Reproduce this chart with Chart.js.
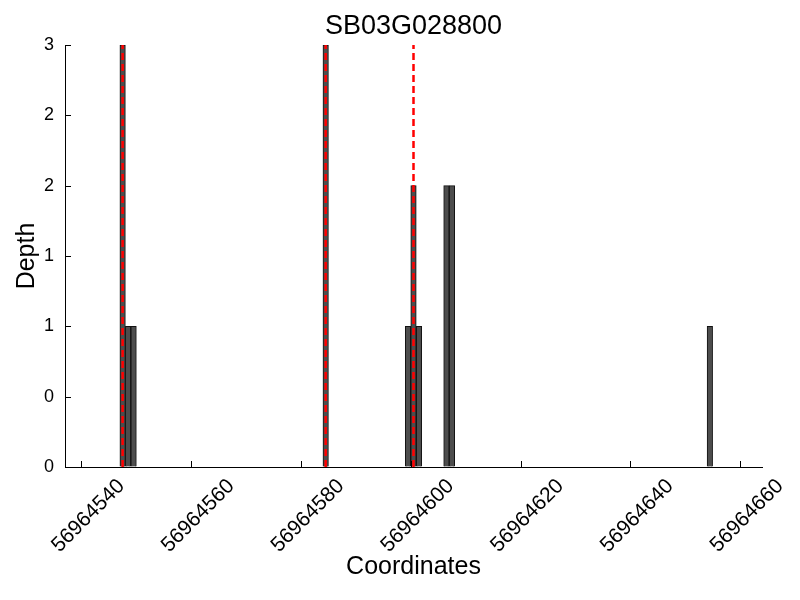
<!DOCTYPE html>
<html>
<head>
<meta charset="utf-8">
<script src="https://cdn.jsdelivr.net/npm/chart.js@4/dist/chart.umd.min.js"></script>
<style>
  html, body { margin: 0; padding: 0; background: #ffffff; }
  #wrap { width: 800px; height: 600px; }
</style>
</head>
<body>
<div id="wrap"><canvas id="c" width="800" height="600"></canvas></div>
<script>
// ---- data ----
const chartTitle = "SB03G028800";
const xAxisTitle = "Coordinates";
const yAxisTitle = "Depth";
// bar centres (1 bp bins) and depth values
const coordinates = [56964547.5, 56964548.5, 56964549.5, 56964584.5, 56964599.5, 56964600.5, 56964601.5, 56964606.5, 56964607.5, 56964654.5];
const depths      = [3, 1, 1, 3, 1, 2, 1, 2, 2, 1];
// red dashed marker positions
const markerPositions = [56964547.5, 56964584.5, 56964600.5];
const markerTop = 3;
// axis ticks
const xTickValues = [56964540, 56964560, 56964580, 56964600, 56964620, 56964640, 56964660];
const xTickLabels = ["56964540", "56964560", "56964580", "56964600", "56964620", "56964640", "56964660"];
const yTickValues = [0, 0.5, 1, 1.5, 2, 2.5, 3];
const yTickLabels = ["0", "0", "1", "1", "2", "2", "3"];
const xMin = 56964537, xMax = 56964664;
const yMin = 0, yMax = 3;

const FONT = "'Liberation Sans', Arial, Helvetica, sans-serif";

const barData = coordinates.map((c, i) => ({ x: c, y: depths[i] }));
const markerDatasets = markerPositions.map(p => ({
  type: 'line',
  data: [{ x: p, y: 0 }, { x: p, y: markerTop }],
  borderColor: '#ff0000',
  borderWidth: 2.5,
  borderDash: [7, 4],
  pointRadius: 0,
  fill: false,
  order: 1
}));

const innerTicks = {
  id: 'innerTicks',
  afterDraw(chart) {
    const ctx = chart.ctx;
    const xs = chart.scales.x, ys = chart.scales.y;
    ctx.save();
    ctx.strokeStyle = '#000';
    ctx.lineWidth = 1;
    ctx.beginPath();
    xs.ticks.forEach(t => {
      const px = Math.round(xs.getPixelForValue(t.value)) + 0.5;
      ctx.moveTo(px, ys.bottom);
      ctx.lineTo(px, ys.bottom - 6);
    });
    ys.ticks.forEach(t => {
      const py = Math.round(ys.getPixelForValue(t.value)) + 0.5;
      ctx.moveTo(xs.left, py);
      ctx.lineTo(xs.left + 6, py);
    });
    ctx.stroke();
    // title centred over the plot area
    const ca = chart.chartArea;
    ctx.fillStyle = '#000';
    ctx.font = "27px " + FONT;
    ctx.textAlign = 'center';
    ctx.textBaseline = 'middle';
    ctx.fillText(chartTitle, (ca.left + ca.right) / 2, 27);
    ctx.restore();
  }
};

new Chart(document.getElementById('c'), {
  type: 'bar',
  data: {
    datasets: [
      {
        type: 'bar',
        data: barData,
        backgroundColor: '#4d4d4d',
        borderColor: '#111111',
        borderWidth: 1,
        barPercentage: 1,
        categoryPercentage: 1,
        grouped: false,
        order: 2
      },
      ...markerDatasets
    ]
  },
  options: {
    responsive: false,
    devicePixelRatio: 1,
    animation: false,
    layout: { padding: { left: 0, right: 38, top: 45, bottom: 0 } },
    plugins: {
      legend: { display: false },
      tooltip: { enabled: false },
      title: { display: false }
    },
    scales: {
      x: {
        type: 'linear',
        min: xMin,
        max: xMax,
        offset: false,
        grid: { display: true, drawOnChartArea: false, drawTicks: false },
        border: { display: true, color: '#000', width: 1 },
        afterBuildTicks(scale) { scale.ticks = xTickValues.map(v => ({ value: v })); },
        afterFit(scale) { scale.height = 133; },
        ticks: {
          autoSkip: false,
          minRotation: 45,
          maxRotation: 45,
          padding: 7,
          labelOffset: 40,
          color: '#000',
          font: { family: FONT, size: 21 },
          callback: (v, i) => xTickLabels[i]
        },
        title: {
          display: true,
          text: xAxisTitle,
          color: '#000',
          font: { family: FONT, size: 25, lineHeight: 1 },
          padding: { top: 0, bottom: 20 }
        }
      },
      y: {
        type: 'linear',
        min: yMin,
        max: yMax,
        grid: { display: true, drawOnChartArea: false, drawTicks: false },
        border: { display: true, color: '#000', width: 1 },
        afterBuildTicks(scale) { scale.ticks = yTickValues.map(v => ({ value: v })); },
        afterFit(scale) { scale.width = 65; },
        ticks: {
          padding: 11,
          color: '#000',
          font: { family: FONT, size: 18 },
          callback: (v, i) => yTickLabels[i]
        },
        title: {
          display: true,
          text: yAxisTitle,
          color: '#000',
          font: { family: FONT, size: 25, lineHeight: 1 },
          padding: { top: 15, bottom: 0 }
        }
      }
    }
  },
  plugins: [innerTicks]
});
</script>
</body>
</html>
